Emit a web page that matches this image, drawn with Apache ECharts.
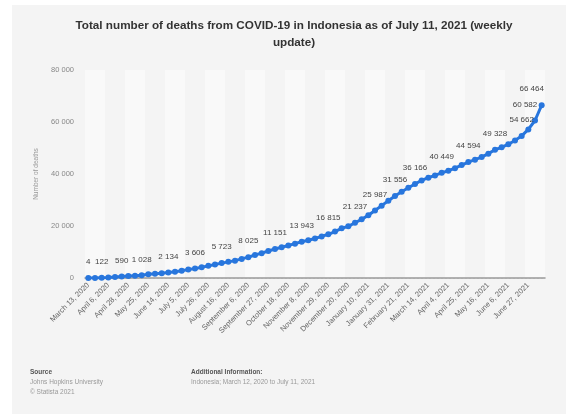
<!DOCTYPE html>
<html>
<head>
<meta charset="utf-8">
<script src="https://cdn.jsdelivr.net/npm/echarts@6/dist/echarts.min.js"></script>
<style>
html, body { margin: 0; padding: 0; background: #fff; }
#main { width: 566px; height: 414px; }
</style>
</head>
<body>
<div id="main"></div>
<script>
// dates of the weekly updates
var dates = ['March 13, 2020','March 20, 2020','March 30, 2020','April 6, 2020','April 13, 2020','April 20, 2020',
 'April 28, 2020','May 5, 2020','May 12, 2020','May 25, 2020','June 1, 2020','June 7, 2020',
 'June 14, 2020','June 21, 2020','June 28, 2020','July 5, 2020','July 12, 2020','July 19, 2020',
 'July 26, 2020','August 2, 2020','August 9, 2020','August 16, 2020','August 23, 2020','August 30, 2020',
 'September 6, 2020','September 13, 2020','September 20, 2020','September 27, 2020','October 4, 2020','October 11, 2020',
 'October 18, 2020','October 25, 2020','November 1, 2020','November 8, 2020','November 15, 2020','November 22, 2020',
 'November 29, 2020','December 6, 2020','December 13, 2020','December 20, 2020','December 27, 2020','January 3, 2021',
 'January 10, 2021','January 17, 2021','January 24, 2021','January 31, 2021','February 7, 2021','February 14, 2021',
 'February 21, 2021','February 28, 2021','March 7, 2021','March 14, 2021','March 21, 2021','March 28, 2021',
 'April 4, 2021','April 11, 2021','April 18, 2021','April 25, 2021','May 2, 2021','May 9, 2021',
 'May 16, 2021','May 23, 2021','May 30, 2021','June 6, 2021','June 13, 2021','June 20, 2021',
 'June 27, 2021','July 4, 2021','July 11, 2021'];

// total deaths
var deaths = [4, 32, 122, 209, 373, 590,
 765, 895, 1028, 1418, 1613, 1851,
 2134, 2429, 2805, 3241, 3606, 4143,
 4665, 5193, 5723, 6207, 6680, 7343,
 8025, 8841, 9553, 10386, 11151, 11844,
 12511, 13205, 13943, 14540, 15211, 16002,
 16815, 17867, 19111, 19880, 21237, 22555,
 24129, 25987, 27835, 29728, 31556, 33183,
 34691, 36166, 37547, 38573, 39447, 40449,
 41242, 42227, 43424, 44594, 45521, 46496,
 47823, 49328, 50262, 51449, 52879, 54662,
 57138, 60582, 66464];

// points that carry a value label
var labeled = [0, 2, 5, 8, 12, 16, 20, 24, 28, 32, 36, 40, 43, 46, 49, 53, 57, 61, 65, 67, 68];

function fmt(v) {
  return String(v).replace(/\B(?=(\d{3})+(?!\d))/g, ' ');
}

var myChart = echarts.init(document.getElementById('main'));

var seriesData = deaths.map(function (v, i) {
  var item = { value: v };
  if (labeled.indexOf(i) >= 0) {
    item.label = { show: true };
    if (i >= 67) item.label.offset = [-10, 0];
  }
  return item;
});

var ff = 'Liberation Sans, Arial, Helvetica, sans-serif';

var option = {
  backgroundColor: '#ffffff',
  animation: false,
  textStyle: { fontFamily: ff },
  title: {
    text: 'Total number of deaths from COVID-19 in Indonesia as of July 11, 2021 (weekly\nupdate)',
    left: 289,
    textAlign: 'center',
    top: 12,
    textStyle: { fontSize: 11.7, fontWeight: 'bold', color: '#333', lineHeight: 17, fontFamily: ff }
  },
  graphic: [
    { type: 'rect', z: -10, shape: { x: 12, y: 5, width: 560, height: 420 }, style: { fill: '#f4f4f4' } },
    { type: 'text', left: 30, top: 369, style: { text: 'Source', fontSize: 6.5, fill: '#555', fontFamily: ff, fontWeight: 'bold' } },
    { type: 'text', left: 30, top: 379, style: { text: 'Johns Hopkins University', fontSize: 6.5, fill: '#999', fontFamily: ff } },
    { type: 'text', left: 30, top: 389, style: { text: '\u00a9 Statista 2021', fontSize: 6.5, fill: '#999', fontFamily: ff } },
    { type: 'text', left: 191, top: 369, style: { text: 'Additional Information:', fontSize: 6.5, fill: '#555', fontFamily: ff, fontWeight: 'bold' } },
    { type: 'text', left: 191, top: 379, style: { text: 'Indonesia; March 12, 2020 to July 11, 2021', fontSize: 6.5, fill: '#999', fontFamily: ff } }
  ],
  grid: { left: 85, right: 21, top: 70, bottom: 136 },
  xAxis: {
    type: 'category',
    data: dates,
    boundaryGap: true,
    axisLine: { lineStyle: { color: '#999', width: 1.5 } },
    axisTick: { show: false },
    axisLabel: { interval: 2, rotate: 45, fontSize: 7.5, color: '#666', margin: 6 },
    splitArea: { show: true, interval: 2, areaStyle: { color: ['#f9f9f9', '#f4f4f4'] } }
  },
  yAxis: {
    type: 'value',
    min: 0,
    max: 80000,
    interval: 20000,
    name: 'Number of deaths',
    nameLocation: 'middle',
    nameGap: 40,
    nameTextStyle: { fontSize: 6.5, color: '#999' },
    axisLine: { show: false },
    axisTick: { show: false },
    axisLabel: { fontSize: 7.5, color: '#888', margin: 11, formatter: fmt },
    splitLine: { lineStyle: { color: '#e2e2e2', type: [2, 2] } }
  },
  series: [{
    type: 'line',
    data: seriesData,
    symbol: 'circle',
    symbolSize: 6,
    showAllSymbol: true,
    lineStyle: { color: '#2876dd', width: 3 },
    itemStyle: { color: '#2876dd' },
    label: { show: false, position: 'top', distance: 9, fontSize: 8, color: '#444', formatter: function (p) { return fmt(p.value); } }
  }]
};

myChart.setOption(option);
</script>
</body>
</html>
